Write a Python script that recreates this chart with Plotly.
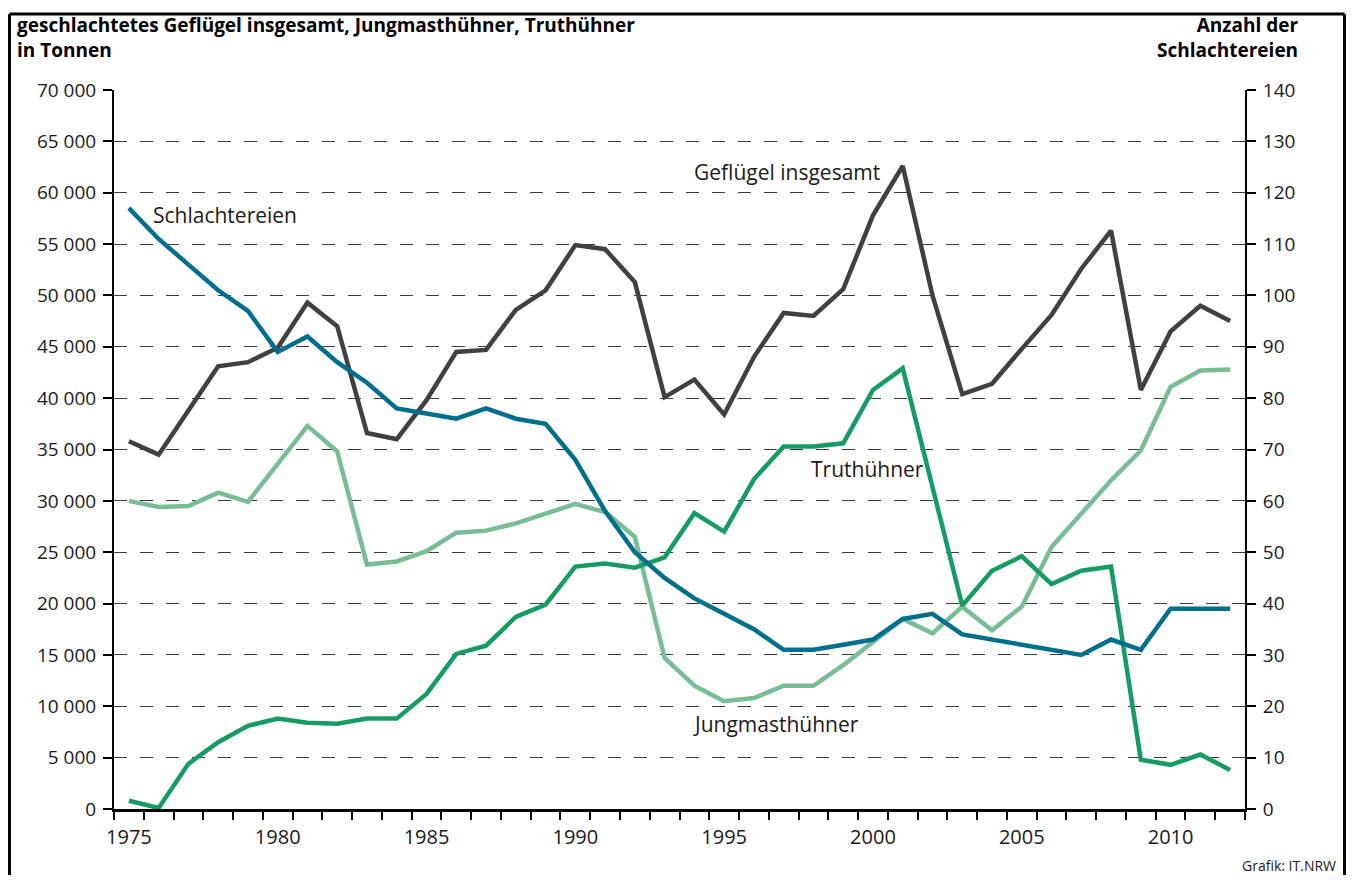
import plotly.graph_objects as go

years = list(range(1975, 2013))

gefluegel = [35800, 34500, 38800, 43100, 43500, 44900, 49300, 47000, 36600, 36000,
             39800, 44500, 44700, 48600, 50500, 54900, 54500, 51300, 40100, 41800,
             38400, 44000, 48300, 48000, 50600, 57800, 62600, 50000, 40400, 41400,
             44800, 48100, 52600, 56300, 40800, 46500, 49000, 47500]

jungmast = [30000, 29400, 29500, 30800, 29900, 33600, 37300, 34800, 23800, 24100,
            25100, 26900, 27100, 27800, 28700, 29700, 28900, 26500, 14700, 12000,
            10500, 10800, 12000, 12000, 14000, 16200, 18500, 17100, 19700, 17400,
            19700, 25500, 28800, 32000, 34900, 41100, 42700, 42800]

truthuehner = [800, 100, 4400, 6500, 8100, 8800, 8400, 8300, 8800, 8800,
               11200, 15100, 15900, 18700, 19900, 23600, 23900, 23500, 24500, 28800,
               27000, 32100, 35300, 35300, 35600, 40800, 42900, 31500, 19800, 23200,
               24600, 21900, 23200, 23600, 4800, 4300, 5300, 3800]

schlachtereien = [117, 111, 106, 101, 97, 89, 92, 87, 83, 78,
                  77, 76, 78, 76, 75, 68, 58, 50, 45, 41,
                  38, 35, 31, 31, 32, 33, 37, 38, 34, 33,
                  32, 31, 30, 33, 31, 39, 39, 39]

x_tickvals = [1975, 1980, 1985, 1990, 1995, 2000, 2005, 2010]
x_ticktext = ["1975", "1980", "1985", "1990", "1995", "2000", "2005", "2010"]
y_tickvals = [0, 5000, 10000, 15000, 20000, 25000, 30000, 35000, 40000, 45000, 50000, 55000, 60000, 65000, 70000]
y_ticktext = ["0", "5 000", "10 000", "15 000", "20 000", "25 000", "30 000", "35 000",
              "40 000", "45 000", "50 000", "55 000", "60 000", "65 000", "70 000"]
y2_tickvals = [0, 10, 20, 30, 40, 50, 60, 70, 80, 90, 100, 110, 120, 130, 140]

C_GEF = "#404040"
C_JUNG = "#78bd96"
C_TRUT = "#169c63"
C_SCHL = "#006f8e"
FONT = "Open Sans, Noto Sans, sans-serif"
TXT = "#1a1a1a"

fig = go.Figure()
fig.add_trace(go.Scatter(x=years, y=jungmast, mode="lines", line=dict(color=C_JUNG, width=4.5),
                         name="Jungmasthühner"))
fig.add_trace(go.Scatter(x=years, y=truthuehner, mode="lines", line=dict(color=C_TRUT, width=4.5),
                         name="Truthühner"))
fig.add_trace(go.Scatter(x=years, y=gefluegel, mode="lines", line=dict(color=C_GEF, width=4.5),
                         name="Geflügel insgesamt"))
fig.add_trace(go.Scatter(x=years, y=schlachtereien, mode="lines", line=dict(color=C_SCHL, width=4.5),
                         name="Schlachtereien", yaxis="y2"))

half_years = [1974.5 + i for i in range(len(years) + 1)]

# the page body has an 8px margin; the figure fits inside the window without scrollbars
W, H = 1338, 867
L, T, PW, PH = 106, 82, 1131, 719
fig.update_layout(
    width=W, height=H,
    margin=dict(l=L, r=W - L - PW, t=T, b=H - T - PH),
    paper_bgcolor="white", plot_bgcolor="white",
    showlegend=False,
    font=dict(family=FONT, size=19, color=TXT),
    xaxis=dict(range=[1974.5, 2012.5], showline=True, linecolor="black", linewidth=2.5,
               tickmode="array", tickvals=x_tickvals, ticktext=x_ticktext,
               ticks="outside", ticklen=8, tickcolor="rgba(0,0,0,0)",
               showgrid=False, zeroline=False,
               tickfont=dict(family=FONT, size=20, color=TXT),
               minor=dict(tickmode="array", tickvals=half_years, ticks="outside", ticklen=8,
                          tickwidth=2, tickcolor="black", showgrid=False)),
    yaxis=dict(range=[0, 70000], showline=True, linecolor="black", linewidth=2,
               tickmode="array", tickvals=y_tickvals, ticktext=y_ticktext,
               ticks="outside", ticklen=9, tickwidth=2, tickcolor="black",
               showgrid=True, gridcolor="#3a3a3a", gridwidth=1.3, griddash="13px,13px",
               zeroline=False, ticklabelstandoff=3,
               tickfont=dict(family=FONT, size=19, color=TXT)),
    yaxis2=dict(range=[0, 140], overlaying="y", side="right", showline=True, linecolor="black",
                linewidth=2, tickmode="array", tickvals=y2_tickvals,
                ticks="outside", ticklen=9, tickwidth=2, tickcolor="black",
                showgrid=False, zeroline=False, ticklabelstandoff=3,
                tickfont=dict(family=FONT, size=19, color=TXT)),
)

# outer frame (left, top, right edges), in figure pixels converted to paper units
def px(xf):
    return (xf - L) / PW

def py(yf):
    return (T + PH - yf) / PH

FX0, FX1, FY0, FY1 = px(1.5), px(W - 1.5), py(H + 20), py(6)
for (a, b, c, d) in [(FX0, FY0, FX0, FY1), (FX0, FY1, FX1, FY1), (FX1, FY1, FX1, FY0)]:
    fig.add_shape(type="line", xref="paper", yref="paper", x0=a, y0=b, x1=c, y1=d,
                  line=dict(color="black", width=3), layer="above")

# titles
fig.add_annotation(xref="paper", yref="paper", x=-0.0875, y=1.0735, xanchor="left", yanchor="middle",
                   align="left",
                   text="<b>geschlachtetes Geflügel insgesamt, Jungmasthühner, Truthühner<br>in Tonnen</b>",
                   showarrow=False, font=dict(family=FONT, size=19, color="black"))
fig.add_annotation(xref="paper", yref="paper", x=1.0485, y=1.0735, xanchor="right", yanchor="middle",
                   align="right",
                   text="<b>Anzahl der<br>Schlachtereien</b>",
                   showarrow=False, font=dict(family=FONT, size=19, color="black"))
fig.add_annotation(xref="paper", yref="paper", x=1.0825, y=py(857), xanchor="right", yanchor="middle",
                   text="Grafik: IT.NRW",
                   showarrow=False, font=dict(family=FONT, size=14, color=TXT))

# series labels
labels = [
    ("Schlachtereien", 1975.73, 57840),
    ("Geflügel insgesamt", 1993.91, 62030),
    ("Truthühner", 1997.84, 33080),
    ("Jungmasthühner", 1993.87, 8230),
]
for txt, lx, ly in labels:
    fig.add_annotation(xref="x", yref="y", x=lx, y=ly, xanchor="left", yanchor="middle",
                       text=txt, showarrow=False, font=dict(family=FONT, size=21, color=TXT))

fig.write_html("out.html")
